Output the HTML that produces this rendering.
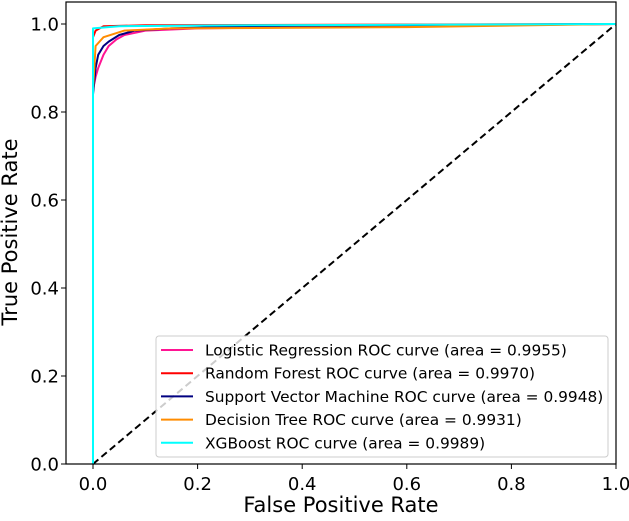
<!DOCTYPE html>
<html><head><meta charset="utf-8"><style>
body{margin:0;background:#fff;}
svg text{font-family:"DejaVu Sans","Liberation Sans",sans-serif;fill:#000;}
</style></head><body>
<svg id="chart" width="629" height="516" xmlns="http://www.w3.org/2000/svg"></svg>
<script>
const xTicks=[0,0.2,0.4,0.6,0.8,1.0];
const yTicks=[0,0.2,0.4,0.6,0.8,1.0];
const seriesNames=["Logistic Regression ROC curve (area = 0.9955)","Random Forest ROC curve (area = 0.9970)","Support Vector Machine ROC curve (area = 0.9948)","Decision Tree ROC curve (area = 0.9931)","XGBoost ROC curve (area = 0.9989)"];
const seriesColors=["#ff1493","#ff0000","#000080","#ff8c00","#00ffff"];
const lrFpr=[0,0,0.005,0.01,0.02,0.03,0.045,0.06,0.1,0.2,1];
const lrTpr=[0,0.85,0.88,0.9,0.93,0.95,0.965,0.975,0.985,0.99,1];
const rfFpr=[0,0,0.005,0.02,0.1,1];
const rfTpr=[0,0.97,0.985,0.995,0.997,1];
const svmFpr=[0,0,0.005,0.01,0.02,0.03,0.05,0.08,0.15,0.3,1];
const svmTpr=[0,0.84,0.9,0.93,0.95,0.96,0.975,0.985,0.99,0.995,1];
const dtFpr=[0,0,0.005,0.02,0.06,0.15,0.6,1];
const dtTpr=[0,0.85,0.95,0.97,0.985,0.99,0.993,1];
const xgFpr=[0,0,0.05,0.3,1];
const xgTpr=[0,0.99,0.995,0.997,1];
const allFpr=[lrFpr,rfFpr,svmFpr,dtFpr,xgFpr];
const allTpr=[lrTpr,rfTpr,svmTpr,dtTpr,xgTpr];
const seriesKeys=["logistic-regression","random-forest","svm","decision-tree","xgboost"];

const svg=document.getElementById('chart');
const NS='http://www.w3.org/2000/svg';
const L=66,R=616,T=2,B=464;
function sx(v){return 93+v*523;}
function sy(v){return 464-v*440;}
function mk(tag,attrs,parent){const e=document.createElementNS(NS,tag);for(const k in attrs)e.setAttribute(k,attrs[k]);(parent||svg).appendChild(e);return e;}

let d=mk('line',{x1:sx(0),y1:sy(0),x2:sx(1),y2:sy(1),stroke:'#000','stroke-width':2,'stroke-dasharray':'7,4'});



for(let i=0;i<allFpr.length;i++){
  const pts=allFpr[i].map((f,j)=>sx(f).toFixed(1)+','+sy(allTpr[i][j]).toFixed(1)).join(' ');
  const p=mk('polyline',{points:pts,fill:'none',stroke:seriesColors[i],'stroke-width':2,'stroke-linejoin':'round'});
  
  
}

const frame=mk('rect',{x:L,y:T,width:R-L,height:B-T,fill:'none',stroke:'#000','stroke-width':1.2});



xTicks.forEach(v=>{
  mk('line',{x1:sx(v),y1:B,x2:sx(v),y2:B+5,stroke:'#000','stroke-width':1});
  const t=mk('text',{x:sx(v),y:B+26,'text-anchor':'middle','font-size':18});
  t.textContent=v.toFixed(1);
  
  
});
yTicks.forEach(v=>{
  mk('line',{x1:L-5,y1:sy(v),x2:L,y2:sy(v),stroke:'#000','stroke-width':1});
  const t=mk('text',{x:L-7,y:sy(v)+6.5,'text-anchor':'end','font-size':18});
  t.textContent=v.toFixed(1);
  
  
});
let xt=mk('text',{x:341,y:512,'text-anchor':'middle','font-size':21});
xt.textContent='False Positive Rate';


let yt=mk('text',{x:17,y:232,'text-anchor':'middle','font-size':21,transform:'rotate(-90 17 232)'});
yt.textContent='True Positive Rate';



const lg=mk('g',{});


mk('rect',{x:156,y:336,width:452,height:121,rx:3,fill:'#fff','fill-opacity':0.8,stroke:'#ccc','stroke-width':1},lg);
seriesNames.forEach((n,i)=>{
  const y=350+i*23.2;
  const g=mk('g',{},lg);
  
  
  mk('line',{x1:161,y1:y,x2:193,y2:y,stroke:seriesColors[i],'stroke-width':2},g);
  const t=mk('text',{x:205,y:y+5.5,'font-size':15.4},g);
  t.textContent=n;
});
</script>
</body></html>
